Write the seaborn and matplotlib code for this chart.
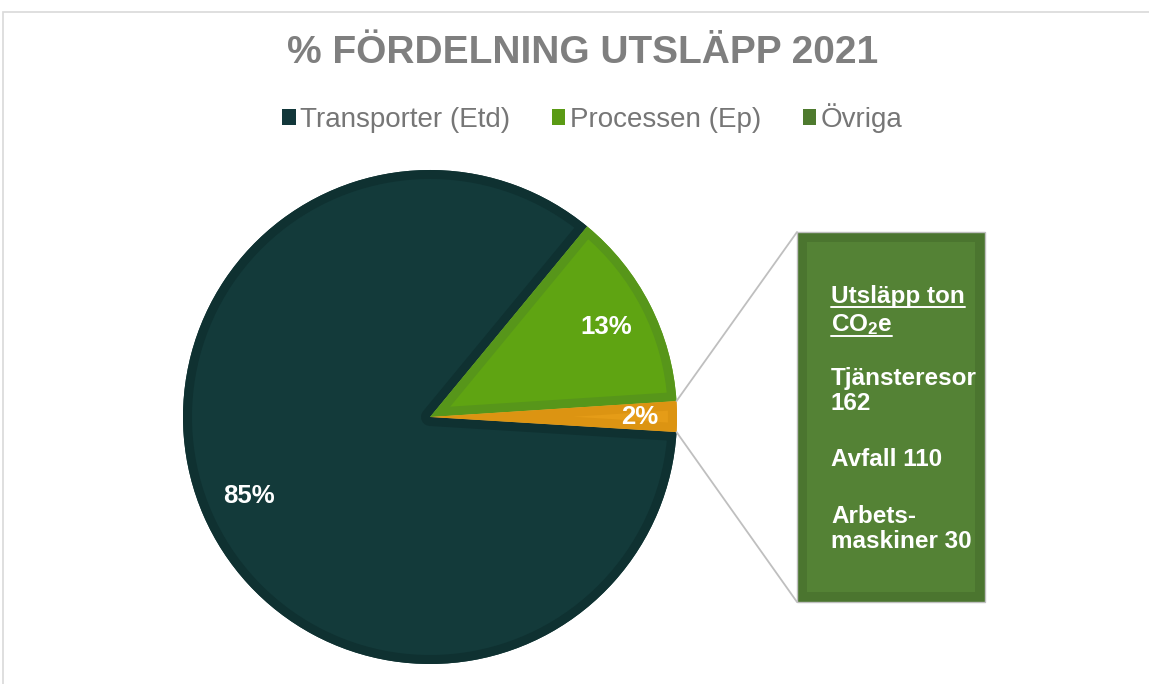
import numpy as np
import seaborn as sns
import matplotlib.pyplot as plt
import matplotlib.patches as mpatches

# data
categories = ["Transporter (Etd)", "Processen (Ep)", "Övriga"]
shares = [85, 13, 2]
slice_colors = ["#133a3a", "#5fa412", "#e59c17"]
edge_colors = ["#0f3131", "#57961a", "#dc9412"]
legend_colors = ["#12373a", "#5a9a14", "#4e7a2e"]
detail_title = ["Utsläpp ton", "CO$_{2}$e"]
detail_lines = ["Tjänsteresor\n162", "Avfall 110", "Arbets-\nmaskiner 30"]

sns.set_theme(style="white")
plt.rcParams["font.family"] = ["Liberation Sans", "DejaVu Sans"]
plt.rcParams["mathtext.fontset"] = "custom"
plt.rcParams["mathtext.rm"] = "Liberation Sans:bold"
plt.rcParams["mathtext.it"] = "Liberation Sans:bold"
plt.rcParams["mathtext.bf"] = "Liberation Sans:bold"

W, H = 1149, 684
fig = plt.figure(figsize=(W / 100, H / 100), dpi=100)
fig.patch.set_facecolor("white")
ax = fig.add_axes([0, 0, 1, 1])

# outer chart frame
fig.add_artist(mpatches.Rectangle((3 / W, -0.1), 1.2, (H - 12) / H + 0.1,
                                  transform=fig.transFigure, fill=False,
                                  edgecolor="#d9d9d9", linewidth=1.2))

cx, cy, R = 430, H - 417, 247
border_px = 9
wedges, texts, autotexts = ax.pie(
    shares, colors=slice_colors, startangle=-3.5, counterclock=False,
    center=(cx, cy), radius=R, autopct=lambda p: f"{p:.0f}%",
    pctdistance=0.8,
    wedgeprops=dict(edgecolor="none", linewidth=0),
    textprops=dict(color="white", fontsize=18.5, fontweight="bold", zorder=5))

# inner border on each slice: stroke clipped to the slice itself
for w, ec in zip(wedges, edge_colors):
    rim = mpatches.PathPatch(w.get_path(), transform=w.get_transform(),
                             fill=False, edgecolor=ec,
                             linewidth=2 * border_px * 0.72, joinstyle="round",
                             zorder=w.get_zorder() + 0.1)
    ax.add_patch(rim)
    rim.set_clip_path(w)

# small slice label sits a little further out
w = wedges[2]
mid = np.deg2rad((w.theta1 + w.theta2) / 2)
autotexts[2].set_position((cx + 0.85 * R * np.cos(mid), cy + 0.85 * R * np.sin(mid)))

ax.set_xlim(0, W)
ax.set_ylim(0, H)
ax.set_aspect("equal")
ax.axis("off")

# detail box for "Övriga"
bx0, bx1 = 797, 985
by0, by1 = H - 602, H - 232
ax.add_patch(mpatches.Rectangle((bx0, by0), bx1 - bx0, by1 - by0,
                                facecolor="#4b752f", edgecolor="#bfbfbf", linewidth=1))
ax.add_patch(mpatches.Rectangle((bx0 + 10, by0 + 10), bx1 - bx0 - 20, by1 - by0 - 20,
                                facecolor="#548235", edgecolor="none"))

# connector lines from small slice to box
for ang, by in [(w.theta2, by1), (w.theta1, by0)]:
    a = np.deg2rad(ang)
    ax.plot([cx + R * np.cos(a), bx0], [cy + R * np.sin(a), by],
            color="#bfbfbf", linewidth=1.3)

tx = 831
fs = 17.5
t1 = ax.text(tx, H - 296, detail_title[0], color="white", fontsize=fs,
             fontweight="bold", va="center", ha="left")
t2 = ax.text(tx, H - 325, detail_title[1], color="white", fontsize=fs,
             fontweight="bold", va="center", ha="left")
ax.text(tx, H - 391, detail_lines[0], color="white", fontsize=fs,
        fontweight="bold", va="center", ha="left", linespacing=1.1)
ax.text(tx, H - 460, detail_lines[1], color="white", fontsize=fs,
        fontweight="bold", va="center", ha="left")
ax.text(tx, H - 529, detail_lines[2], color="white", fontsize=fs,
        fontweight="bold", va="center", ha="left", linespacing=1.1)

# underline the heading
fig.canvas.draw()
inv = ax.transData.inverted()
for t, base in [(t1, H - 296), (t2, H - 325)]:
    bb = t.get_window_extent()
    (x0, y0), (x1, _) = inv.transform([[bb.x0, bb.y0], [bb.x1, bb.y1]])
    ax.plot([x0, x1], [base - 11, base - 11], color="white", linewidth=1.4)

# title
ax.text(583, H - 53, "% FÖRDELNING UTSLÄPP 2021", color="#7f7f7f",
        fontsize=28, fontweight="bold", ha="center", va="center")

# legend
handles = [mpatches.Patch(facecolor=c, edgecolor="none") for c in legend_colors]
leg = ax.legend(handles, categories, loc="center", ncol=3,
                bbox_to_anchor=(592 / W, (H - 118) / H), bbox_transform=fig.transFigure,
                frameon=False, fontsize=20, handlelength=0.5, handleheight=0.5,
                handletextpad=0.15, columnspacing=1.5, borderpad=0)
for t in leg.get_texts():
    t.set_color("#767676")

fig.savefig("out.png", dpi=100, facecolor="white")
